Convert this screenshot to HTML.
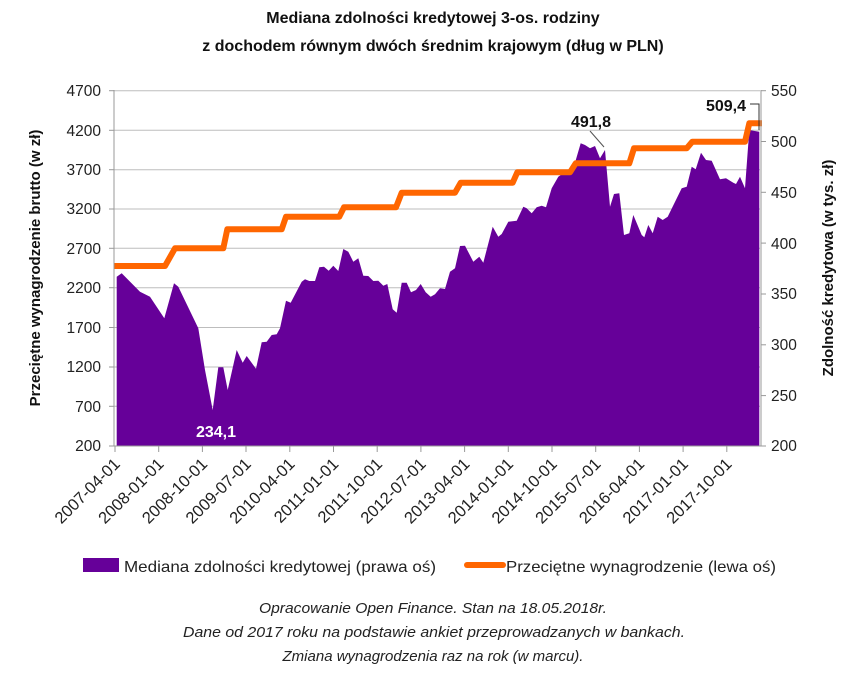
<!DOCTYPE html>
<html><head><meta charset="utf-8"><style>
body{margin:0;background:#fff;}
svg text{font-family:"Liberation Sans",sans-serif;}
</style></head><body>
<svg width="867" height="688" xmlns="http://www.w3.org/2000/svg">
<text x="433" y="23" text-anchor="middle" font-size="16" font-weight="bold" fill="#111">Mediana zdolności kredytowej 3-os. rodziny</text>
<text x="433" y="51" text-anchor="middle" font-size="16" font-weight="bold" fill="#111">z dochodem równym dwóch średnim krajowym (dług w PLN)</text>
<g stroke="#bdbdbd" stroke-width="1">
<line x1="114" x2="760" y1="90.7" y2="90.7"/><line x1="114" x2="760" y1="130.3" y2="130.3"/>
<line x1="114" x2="760" y1="169.7" y2="169.7"/><line x1="114" x2="760" y1="209" y2="209"/>
<line x1="114" x2="760" y1="248.3" y2="248.3"/><line x1="114" x2="760" y1="287.7" y2="287.7"/>
<line x1="114" x2="760" y1="327.5" y2="327.5"/><line x1="114" x2="760" y1="367" y2="367"/>
<line x1="114" x2="760" y1="406.3" y2="406.3"/>
</g>
<polygon fill="#660099" points="116.7,446 116.7,276.7 121.7,273.3 140,291.7 150,296.7 164.3,318.3 174,283.3 178.3,286.7 198.3,328.3 205,370 212.7,410 218.3,367.3 223.3,367.3 227.7,390 236.7,350 242.7,362.7 246.7,356 256,368.7 261.7,342.3 266.7,341.7 271.7,335 276.7,334.3 280,328.3 286,300.7 290.7,302.7 301.7,281.7 305,279.3 309.3,281 315,281 319.3,267.3 324,266.7 328.7,270.7 333.3,265.7 338.3,271 343.3,249 348.3,251.7 353.3,261.7 358.3,258.3 363.3,275.7 368.3,276 373.3,281 378.3,280.7 383.3,285.7 387.3,284 392.7,309.3 396.7,312.7 401.7,282.7 406.7,282.7 411,292.3 416,290 420.7,284 425.7,292.3 430.7,296.7 435,294.3 440,288.3 445,289 450,271.7 455,268.3 460,246 465,245.7 473.3,261.7 479.3,256.7 483.3,262.7 492.7,226.7 498.3,236.7 501.7,234 508.3,221.7 516.7,220.7 523.3,206.7 526.7,208.3 531.7,213.3 536.7,207.3 541.7,205.7 546,207.3 551.7,188.3 558.3,176.7 563.3,173.3 571.7,174 580.7,143.3 585,145 590,148.3 595,146 600,158.3 605,150 610,206.7 614,194 619.3,193.3 624,235 629.3,233.3 633.3,215 641.7,235 644.3,237.3 648.3,225 652.7,233.3 657.7,216.7 662.7,220 667.7,216.7 681.7,188.3 686.7,186.7 691.7,166.7 695.7,169.3 701,152.7 706,160 711.7,160.7 720,179.3 726,178.3 733.3,182.7 736,184 740,176.7 745,188.3 749.3,130 753.3,130.7 759.3,131.7 759.3,446"/>
<polyline fill="none" stroke="#ff6600" stroke-width="6" stroke-linejoin="round" points="114,266 165,266 175,248.3 223.3,248.3 227.3,229.3 281.7,229.3 286,216.7 339.3,216.7 344,207.3 396,207.3 401.7,192.7 455,192.7 460.7,182.7 512.7,182.7 517.3,172.3 570,172.3 575.7,163.3 629.3,163.3 634,148.3 686.7,148.3 692.3,141.7 745,141.7 749.3,123.3 762,123.3"/>
<g stroke="#999" stroke-width="1">
<line x1="114" x2="114" y1="90" y2="446"/><line x1="761" x2="761" y1="90" y2="446"/>
<line x1="114" x2="761" y1="446" y2="446"/>
</g>
<g stroke="#999">
<line x1="109" x2="114" y1="90.7" y2="90.7"/><line x1="109" x2="114" y1="130.3" y2="130.3"/><line x1="109" x2="114" y1="169.7" y2="169.7"/><line x1="109" x2="114" y1="209" y2="209"/><line x1="109" x2="114" y1="248.3" y2="248.3"/><line x1="109" x2="114" y1="287.7" y2="287.7"/><line x1="109" x2="114" y1="327.5" y2="327.5"/><line x1="109" x2="114" y1="367" y2="367"/><line x1="109" x2="114" y1="406.3" y2="406.3"/><line x1="109" x2="114" y1="446" y2="446"/>
<line x1="761" x2="766" y1="90.7" y2="90.7"/><line x1="761" x2="766" y1="141.5" y2="141.5"/><line x1="761" x2="766" y1="192.3" y2="192.3"/><line x1="761" x2="766" y1="243.1" y2="243.1"/><line x1="761" x2="766" y1="294" y2="294"/><line x1="761" x2="766" y1="344.8" y2="344.8"/><line x1="761" x2="766" y1="395.6" y2="395.6"/><line x1="761" x2="766" y1="446" y2="446"/>
</g>
<g font-size="15.5" fill="#222" text-anchor="end">
<text x="101" y="96">4700</text><text x="101" y="136">4200</text><text x="101" y="175">3700</text><text x="101" y="214">3200</text><text x="101" y="254">2700</text><text x="101" y="293">2200</text><text x="101" y="333">1700</text><text x="101" y="372">1200</text><text x="101" y="412">700</text><text x="101" y="451">200</text>
</g>
<g font-size="15.5" fill="#222">
<text x="771" y="96">550</text><text x="771" y="147">500</text><text x="771" y="198">450</text><text x="771" y="249">400</text><text x="771" y="299">350</text><text x="771" y="350">300</text><text x="771" y="401">250</text><text x="771" y="451">200</text>
</g>
<g stroke="#999">
<line x1="115" x2="115" y1="446" y2="452"/><line x1="158.7" x2="158.7" y1="446" y2="452"/><line x1="202.4" x2="202.4" y1="446" y2="452"/><line x1="246" x2="246" y1="446" y2="452"/><line x1="289.8" x2="289.8" y1="446" y2="452"/><line x1="333.5" x2="333.5" y1="446" y2="452"/><line x1="377.2" x2="377.2" y1="446" y2="452"/><line x1="420.9" x2="420.9" y1="446" y2="452"/><line x1="464.6" x2="464.6" y1="446" y2="452"/><line x1="508.3" x2="508.3" y1="446" y2="452"/><line x1="552" x2="552" y1="446" y2="452"/><line x1="595.7" x2="595.7" y1="446" y2="452"/><line x1="639.4" x2="639.4" y1="446" y2="452"/><line x1="683.1" x2="683.1" y1="446" y2="452"/><line x1="726.8" x2="726.8" y1="446" y2="452"/>
</g>
<g font-size="16.5" fill="#222" text-anchor="end">
<text transform="translate(121,465) rotate(-45)">2007-04-01</text>
<text transform="translate(164.7,465) rotate(-45)">2008-01-01</text>
<text transform="translate(208.4,465) rotate(-45)">2008-10-01</text>
<text transform="translate(252,465) rotate(-45)">2009-07-01</text>
<text transform="translate(295.8,465) rotate(-45)">2010-04-01</text>
<text transform="translate(339.5,465) rotate(-45)">2011-01-01</text>
<text transform="translate(383.2,465) rotate(-45)">2011-10-01</text>
<text transform="translate(426.9,465) rotate(-45)">2012-07-01</text>
<text transform="translate(470.6,465) rotate(-45)">2013-04-01</text>
<text transform="translate(514.3,465) rotate(-45)">2014-01-01</text>
<text transform="translate(558,465) rotate(-45)">2014-10-01</text>
<text transform="translate(601.7,465) rotate(-45)">2015-07-01</text>
<text transform="translate(645.4,465) rotate(-45)">2016-04-01</text>
<text transform="translate(689.1,465) rotate(-45)">2017-01-01</text>
<text transform="translate(732.8,465) rotate(-45)">2017-10-01</text>
</g>
<text transform="translate(40,268) rotate(-90)" text-anchor="middle" font-size="15" font-weight="bold" fill="#111">Przeciętne wynagrodzenie brutto (w zł)</text>
<text transform="translate(833,268) rotate(-90)" text-anchor="middle" font-size="15" font-weight="bold" fill="#111">Zdolność kredytowa (w tys. zł)</text>
<text x="216" y="437" text-anchor="middle" font-size="16" font-weight="bold" fill="#fff">234,1</text>
<text x="591" y="127" text-anchor="middle" font-size="16" font-weight="bold" fill="#111">491,8</text>
<line x1="590" y1="131" x2="604" y2="147" stroke="#555"/>
<text x="746" y="111" text-anchor="end" font-size="16" font-weight="bold" fill="#111">509,4</text>
<polyline points="750,104 759,104 759,130" fill="none" stroke="#333"/>
<rect x="83" y="558" width="36" height="14" fill="#660099"/>
<text x="124" y="572" font-size="16" fill="#222" textLength="312" lengthAdjust="spacingAndGlyphs">Mediana zdolności kredytowej (prawa oś)</text>
<line x1="467" x2="503" y1="565" y2="565" stroke="#ff6600" stroke-width="6" stroke-linecap="round"/>
<text x="506" y="572" font-size="16" fill="#222" textLength="270" lengthAdjust="spacingAndGlyphs">Przeciętne wynagrodzenie (lewa oś)</text>
<g font-size="15" font-style="italic" fill="#222" text-anchor="middle">
<text x="433" y="613" textLength="348" lengthAdjust="spacingAndGlyphs">Opracowanie Open Finance. Stan na 18.05.2018r.</text>
<text x="434" y="637" textLength="502" lengthAdjust="spacingAndGlyphs">Dane od 2017 roku na podstawie ankiet przeprowadzanych w bankach.</text>
<text x="433" y="661">Zmiana wynagrodzenia raz na rok (w marcu).</text>
</g>
</svg>
</body></html>
